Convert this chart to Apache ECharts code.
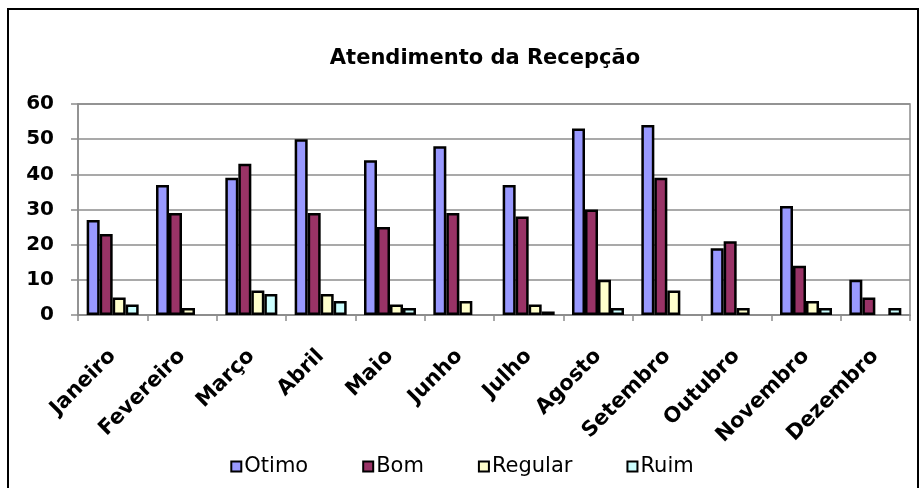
<!DOCTYPE html>
<html>
<head>
<meta charset="utf-8">
<title>Atendimento da Recepção</title>
<script src="https://cdn.jsdelivr.net/npm/echarts@6.0.0/dist/echarts.min.js"></script>
<style>
  html, body { margin: 0; padding: 0; background: #fff; }
  #chart { width: 924px; height: 488px; }
</style>
</head>
<body>
<div id="chart"></div>
<script>
  // dados
  var meses = ['Janeiro', 'Fevereiro', 'Março', 'Abril', 'Maio', 'Junho',
    'Julho', 'Agosto', 'Setembro', 'Outubro', 'Novembro', 'Dezembro'];
  var otimo = [27, 37, 39, 50, 44, 48, 37, 53, 54, 19, 31, 10];
  var bom = [23, 29, 43, 29, 25, 29, 28, 30, 39, 21, 14, 5];
  var regular = [5, 2, 7, 6, 3, 4, 3, 10, 7, 2, 4, 0];
  var ruim = [3, 0, 6, 4, 2, 0, 1, 2, 0, 0, 2, 2];
  var yTicks = [0, 10, 20, 30, 40, 50, 60];

  var fonte = 'DejaVu Sans';

  function serie(nome, cor, valores) {
    return {
      name: nome,
      type: 'bar',
      barWidth: 13,
      barGap: '0%',
      itemStyle: {
        color: cor,
        borderColor: '#000',
        borderWidth: 2.5
      },
      // zero não desenha barra (igual ao Excel)
      data: valores.map(function (v) { return v === 0 ? '-' : v; })
    };
  }

  var chart = echarts.init(document.getElementById('chart'));
  chart.setOption({
    animation: false,
    backgroundColor: '#fff',
    title: {
      text: 'Atendimento da Recepção',
      left: 480,
      top: 43,
      textAlign: 'center',
      textStyle: {
        fontFamily: fonte,
        fontSize: 21,
        fontWeight: 'bold',
        color: '#000'
      }
    },
    legend: {
      left: 'center',
      top: 451,
      icon: 'rect',
      itemWidth: 10,
      itemHeight: 10,
      itemGap: 54,
      textStyle: {
        fontFamily: fonte,
        fontSize: 21,
        color: '#000',
        padding: [0, 0, 0, -2]
      },
      data: ['Otimo', 'Bom', 'Regular', 'Ruim']
    },
    grid: {
      left: 78,
      right: 14,
      top: 104,
      bottom: 173,
      show: true,
      borderColor: '#8c8c8c',
      borderWidth: 1.5
    },
    xAxis: {
      type: 'category',
      data: meses,
      axisLine: { lineStyle: { color: '#8c8c8c', width: 1.5 } },
      axisTick: { show: true, length: 6, lineStyle: { color: '#8c8c8c', width: 1.5 } },
      axisLabel: {
        rotate: 45,
        margin: 38,
        interval: 0,
        fontFamily: fonte,
        fontSize: 21,
        fontWeight: 'bold',
        color: '#000'
      }
    },
    yAxis: {
      type: 'value',
      min: yTicks[0],
      max: yTicks[yTicks.length - 1],
      interval: 10,
      axisLine: { show: true, lineStyle: { color: '#8c8c8c', width: 1.5 } },
      axisTick: { show: true, length: 7, lineStyle: { color: '#8c8c8c', width: 1.5 } },
      axisLabel: {
        margin: 24,
        fontFamily: fonte,
        fontSize: 20,
        fontWeight: 'bold',
        color: '#000'
      },
      splitLine: { lineStyle: { color: '#8c8c8c', width: 1.5 } }
    },
    graphic: [{
      type: 'rect',
      shape: { x: 8, y: 9, width: 910, height: 500 },
      style: { fill: null, stroke: '#000', lineWidth: 2 },
      silent: true
    }],
    series: [
      serie('Otimo', '#9999ff', otimo),
      serie('Bom', '#993366', bom),
      serie('Regular', '#ffffcc', regular),
      serie('Ruim', '#ccffff', ruim)
    ]
  });
</script>
</body>
</html>
